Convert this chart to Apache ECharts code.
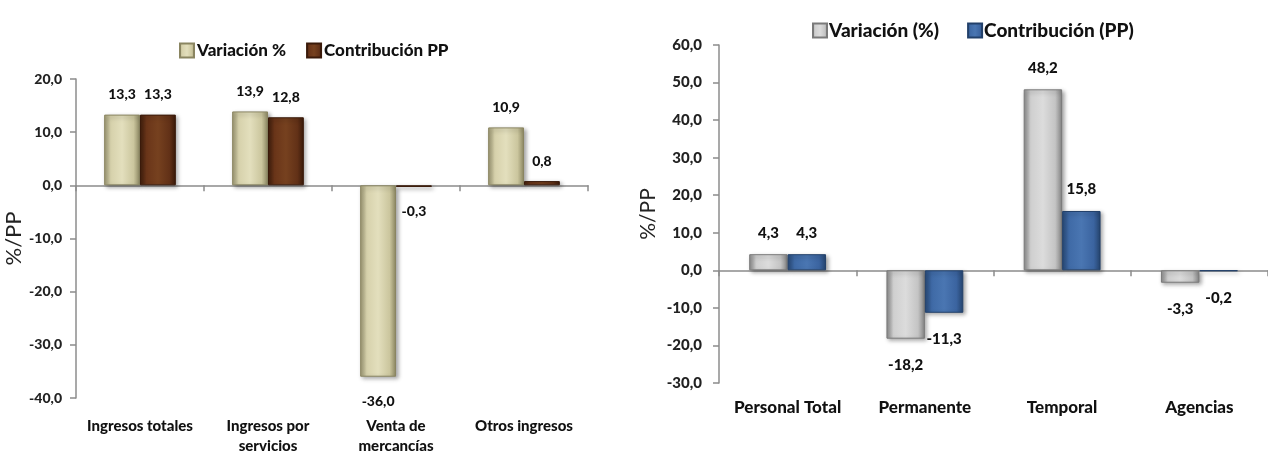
<!DOCTYPE html>
<html>
<head>
<meta charset="utf-8">
<script src="https://cdn.jsdelivr.net/npm/echarts@6/dist/echarts.min.js"></script>
<style>
  html, body { margin: 0; padding: 0; background: #ffffff; }
  #chart { width: 1268px; height: 456px; }
</style>
</head>
<body>
<div id="chart"></div>
<script>
// ---- Data ----
const leftCategories = ['Ingresos totales', 'Ingresos por\nservicios', 'Venta de\nmercancías', 'Otros ingresos'];
const leftVariacion = [13.3, 13.9, -36.0, 10.9];
const leftContribucion = [13.3, 12.8, -0.3, 0.8];
const leftSeriesNames = ['Variación %', 'Contribución PP'];
const leftAxisRange = { min: -40, max: 20, interval: 10 };

const rightCategories = ['Personal Total', 'Permanente', 'Temporal', 'Agencias'];
const rightVariacion = [4.3, -18.2, 48.2, -3.3];
const rightContribucion = [4.3, -11.3, 15.8, -0.2];
const rightSeriesNames = ['Variación (%)', 'Contribución (PP)'];
const rightAxisRange = { min: -30, max: 60, interval: 10 };

const axisName = '%/PP';

// ---- Styles ----
const FONT = 'Lato';
const W = 900;
const fmt = v => Number(v).toFixed(1).replace('.', ',');
function grad(stops) {
  return {
    type: 'linear', x: 0, y: 0, x2: 1, y2: 0,
    colorStops: stops.map((c, i) => ({ offset: [0, 0.18, 0.5, 0.82, 1][i], color: c }))
  };
}
const khaki = grad(['#9d9873', '#d6d1ab', '#e3dfbd', '#cbc69e', '#8c8762']);
const brown = grad(['#3f1e0c', '#6a3519', '#76411f', '#623117', '#3a1a0a']);
const gray  = grad(['#8a8a8a', '#cfcfcf', '#dcdcdc', '#c4c4c4', '#838383']);
const blue  = grad(['#284a78', '#3f6aa6', '#4a76b2', '#3b64a0', '#25446e']);

function makeData(values, posDist, negDist) {
  return values.map(v => ({ value: v, label: { distance: v < 0 ? negDist : posDist } }));
}

function barSeries(name, values, color, border, xi, yi, fontSize, posDist, negDist) {
  return {
    type: 'bar', name: name,
    xAxisIndex: xi, yAxisIndex: yi,
    data: makeData(values, posDist, negDist),
    barGap: '0%', barCategoryGap: '44%',
    itemStyle: {
      color: color, borderColor: border, borderWidth: 1,
      shadowColor: 'rgba(0,0,0,0.35)', shadowBlur: 4, shadowOffsetX: 2, shadowOffsetY: 2
    },
    label: {
      show: true, position: 'outside',
      formatter: p => fmt(p.value),
      fontFamily: FONT, fontWeight: W, fontSize: fontSize, color: '#111'
    },
    emphasis: { disabled: true },
    animation: false
  };
}

const axisLineStyle = { color: '#8c8c8c', width: 1.5 };

function labelXAxis(gridIndex, cats, fontSize, margin, lineHeight) {
  return {
    type: 'category', gridIndex: gridIndex, data: cats, position: 'bottom',
    axisLine: { show: false, onZero: false }, axisTick: { show: false },
    axisLabel: {
      interval: 0, margin: margin, fontFamily: FONT, fontWeight: W,
      fontSize: fontSize, color: '#111', lineHeight: lineHeight
    }
  };
}
function lineXAxis(gridIndex, cats) {
  return {
    type: 'category', gridIndex: gridIndex, data: cats, position: 'bottom',
    axisLine: { show: true, onZero: true, lineStyle: axisLineStyle },
    axisTick: { show: true, length: 6, lineStyle: axisLineStyle },
    axisLabel: { show: false }
  };
}
function yAxis(gridIndex, range, fontSize, margin, nameGap, nameSize) {
  return {
    type: 'value', gridIndex: gridIndex,
    min: range.min, max: range.max, interval: range.interval,
    name: axisName, nameLocation: 'middle', nameGap: nameGap, nameRotate: 90,
    nameTextStyle: { fontFamily: FONT, fontSize: nameSize, color: '#222' },
    axisLine: { show: true, lineStyle: axisLineStyle },
    axisTick: { show: true, length: 6, lineStyle: axisLineStyle },
    splitLine: { show: false },
    axisLabel: {
      formatter: v => fmt(v), margin: margin,
      fontFamily: FONT, fontWeight: W, fontSize: fontSize, color: '#222'
    }
  };
}

const option = {
  backgroundColor: '#ffffff',
  animation: false,
  legend: [
    {
      data: leftSeriesNames, left: 174, top: 37,
      itemWidth: 14, itemHeight: 14, itemGap: 20, icon: 'rect',
      textStyle: { fontFamily: FONT, fontWeight: W, fontSize: 17, color: '#111', padding: [0, 0, 0, -2] }
    },
    {
      data: rightSeriesNames, left: 807, top: 16,
      itemWidth: 14, itemHeight: 14, itemGap: 28, icon: 'rect',
      textStyle: { fontFamily: FONT, fontWeight: W, fontSize: 19, color: '#111', padding: [0, 0, 0, -3] }
    }
  ],
  grid: [
    { left: 76, top: 79, width: 512, height: 323 },
    { left: 719, top: 45, width: 560, height: 338 }
  ],
  xAxis: [
    labelXAxis(0, leftCategories, 15, 18, 20),
    lineXAxis(0, leftCategories),
    labelXAxis(1, rightCategories, 17, 15, 20),
    lineXAxis(1, rightCategories)
  ],
  yAxis: [
    yAxis(0, leftAxisRange, 14, 14, 46, 22),
    yAxis(1, rightAxisRange, 15, 17, 60, 21)
  ],
  series: [
    barSeries(leftSeriesNames[0], leftVariacion, khaki, '#8a8561', 0, 0, 14, 13, 18),
    barSeries(leftSeriesNames[1], leftContribucion, brown, '#3a1a0a', 0, 0, 14, 13, 18),
    barSeries(rightSeriesNames[0], rightVariacion, gray, '#7a7a7a', 2, 1, 15, 14, 19),
    barSeries(rightSeriesNames[1], rightContribucion, blue, '#22406a', 2, 1, 15, 14, 19)
  ]
};

const chart = echarts.init(document.getElementById('chart'), null, { renderer: 'canvas' });
chart.setOption(option);
</script>
</body>
</html>
